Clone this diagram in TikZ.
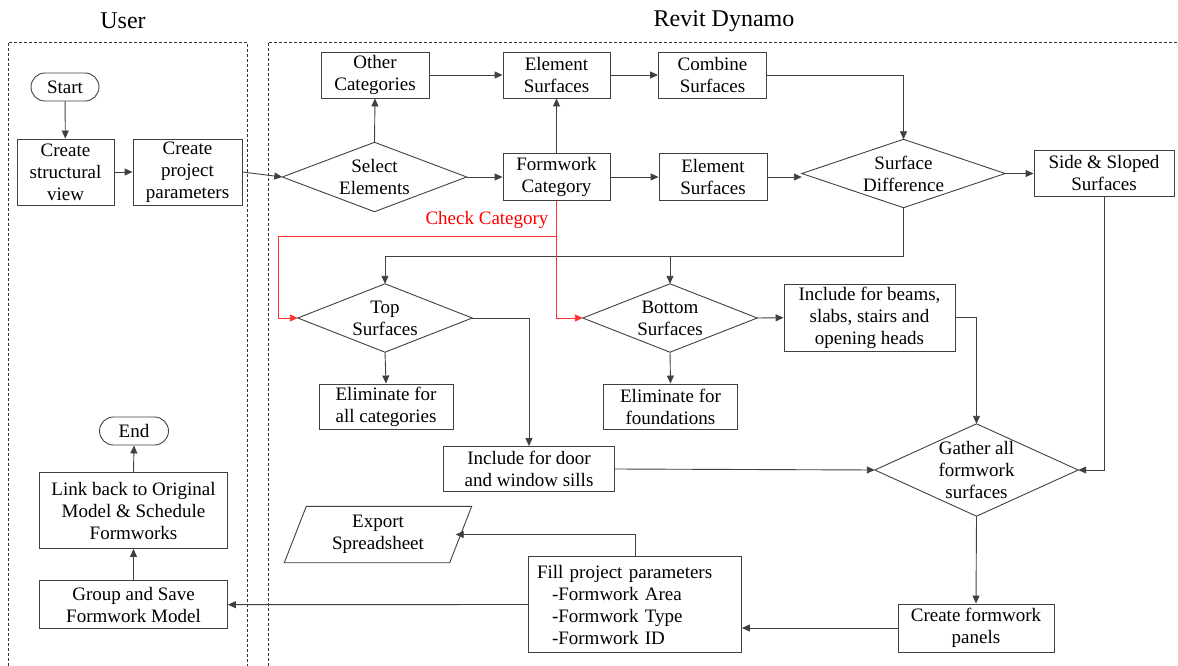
\documentclass[tikz,border=0pt]{standalone}
\usepackage{fontspec}
\setmainfont{Liberation Serif}
\usetikzlibrary{arrows.meta,calc}
\begin{document}
\begin{tikzpicture}[x=1pt,y=-1pt,
  font=\fontsize{19}{22}\selectfont,
  box/.style={draw=black!75, line width=0.9pt, rectangle, align=center, inner sep=0pt},
  term/.style={box, rounded corners=14pt},
  dia/.style={rectangle, align=center, inner sep=0pt},
  ln/.style={draw=black!75, line width=0.9pt},
  arr/.style={ln, -{Triangle[length=8pt,width=7pt]}},
  rarr/.style={draw=red!80, line width=0.9pt, -{Triangle[length=8pt,width=7pt]}},
  zone/.style={draw=black!80, line width=0.7pt, dash pattern=on 3pt off 2pt},
  title/.style={font=\fontsize{24}{28}\selectfont}]
\useasboundingbox (0,0) rectangle (1178,666);

% zones
\node[title] (tuser) at (123,21) {User};
\node[title] (trevit) at (724,21) {Revit Dynamo};
\coordinate (u1) at (8,666); \coordinate (u2) at (8,42);
\coordinate (u3) at (247,42); \coordinate (u4) at (247,666);
\coordinate (r1) at (268,666); \coordinate (r2) at (268,42); \coordinate (r3) at (1178,42);
\draw[zone] (u1) -- (u2) -- (u3) -- (u4);
\draw[zone] (r1) -- (r2) -- (r3);

% user column
\node[term, minimum width=68pt, minimum height=28pt] (start) at (65,87) {Start};
\node[box, minimum width=97pt, minimum height=66pt] (csv) at (65.5,172) {Create\\structural\\view};
\node[box, minimum width=109pt, minimum height=66pt] (cpp) at (187.5,172) {Create\\project\\parameters};
\node[term, minimum width=69pt, minimum height=28pt] (end) at (134,431) {End};
\node[box, minimum width=188pt, minimum height=76pt] (link) at (133.5,510.5) {Link back to Original\\Model \& Schedule\\Formworks};
\node[box, minimum width=188pt, minimum height=48pt] (grp) at (133.5,604.7) {Group and Save\\Formwork Model};

% revit top rows
\node[dia, minimum width=184pt, minimum height=69pt] (sel) at (374.5,177) {Select\\Elements};
\node[box, minimum width=108pt, minimum height=46pt] (oth) at (375,75) {Other\\Categories};
\node[box, minimum width=107pt, minimum height=46pt] (es1) at (556.5,75) {Element\\Surfaces};
\node[box, minimum width=108pt, minimum height=46pt] (comb) at (712.5,75) {Combine\\Surfaces};
\node[box, minimum width=107pt, minimum height=47pt] (fc) at (556.5,177) {Formwork\\Category};
\node[box, minimum width=108pt, minimum height=47pt] (es2) at (713,177) {Element\\Surfaces};
\node[dia, minimum width=203pt, minimum height=68pt] (sd) at (903.5,173.5) {Surface\\Difference};
\node[box, minimum width=140pt, minimum height=46pt] (side) at (1104,173.5) {Side \& Sloped\\Surfaces};

% middle
\node[text=red, anchor=east] (chk) at (552,220) {Check Category};
\node[dia, minimum width=174pt, minimum height=68pt] (top) at (385,318) {Top\\Surfaces};
\node[dia, minimum width=174pt, minimum height=68pt] (bot) at (670,318) {Bottom\\Surfaces};
\node[box, minimum width=134pt, minimum height=45pt] (el1) at (386,406.5) {Eliminate for\\all categories};
\node[box, minimum width=134pt, minimum height=45pt] (el2) at (670.5,406.5) {Eliminate for\\foundations};
\node[box, minimum width=171pt, minimum height=45pt] (door) at (529,469) {Include for door\\and window sills};
\node[box, minimum width=171pt, minimum height=67pt] (beam) at (869.5,317.7) {Include for beams,\\slabs, stairs and\\opening heads};
\node[dia, minimum width=203pt, minimum height=92pt] (gat) at (976.5,470) {Gather all\\formwork\\surfaces};
\node[box, minimum width=156pt, minimum height=48pt] (pan) at (976,628) {Create formwork\\panels};
\node[box, minimum width=213pt, minimum height=96pt, align=left, text width=196pt] (fill) at (635,604.5)
  {Fill project parameters\\\hspace*{15pt}-Formwork Area\\\hspace*{15pt}-Formwork Type\\\hspace*{15pt}-Formwork ID};
\node[dia, minimum width=165pt, minimum height=56pt] (exp) at (378,534.5) {Export\\Spreadsheet};

% diamonds and parallelogram outlines
\foreach \n in {sel,sd,top,bot,gat}
  \draw[ln] (\n.west) -- (\n.north) -- (\n.east) -- (\n.south) -- cycle;
\draw[ln] ([xshift=-11pt]exp.south west) -- ([xshift=11pt]exp.north west)
  -- ([xshift=11pt]exp.north east) -- ([xshift=-11pt]exp.south east) -- cycle;

% connectors
\draw[arr] (start) -- (csv);
\draw[arr] (csv) -- (cpp);
\draw[arr] (cpp.east) -- (sel.west);
\draw[arr] (sel.north) -- (oth.south);
\draw[arr] (sel.east) -- (fc.west);
\draw[arr] (oth.east) -- (es1.west);
\draw[arr] (fc.north) -- (es1.south);
\draw[arr] (es1.east) -- (comb.west);
\draw[arr] (fc.east) -- (es2.west);
\draw[arr] (es2.east) -- (es2.east -| sd.west);
\draw[arr] (comb.east) -| (sd.north);
\draw[arr] (sd.east) -- (side.west);

\coordinate (j1) at (903.5,256);
\coordinate (j2) at (670,256);
\draw[ln] (sd.south) -- (j1);
\draw[arr] (j1) -| (top.north);
\draw[arr] (j2) -- (bot.north);

\coordinate (rc1) at (556.5,236);
\coordinate (rc2) at (278,236);
\draw[rarr] (fc.south) -- (rc1) -- (rc2) |- (top.west);
\draw[rarr] (rc1) |- (bot.west);

\draw[arr] (top.south) -- (el1.north);
\draw[arr] (bot.south) -- (el2.north);
\draw[arr] (top.east) -| (door.north);
\draw[arr] (bot.east) -- (beam.west);
\draw[arr] (beam.east) -| (gat.north);
\draw[arr] (side.south) |- (gat.east);
\draw[arr] (door.east) -- (gat.west);
\draw[arr] (gat.south) -- (pan.north);
\draw[arr] (pan.west) -- (pan.west -| fill.east);
\draw[arr] (fill.north) |- ([xshift=-5pt]exp.east);
\draw[arr] (fill.west) -- (grp.east);
\draw[arr] (grp.north) -- (link.south);
\draw[arr] (link.north) -- (end.south);
\end{tikzpicture}
\end{document}
